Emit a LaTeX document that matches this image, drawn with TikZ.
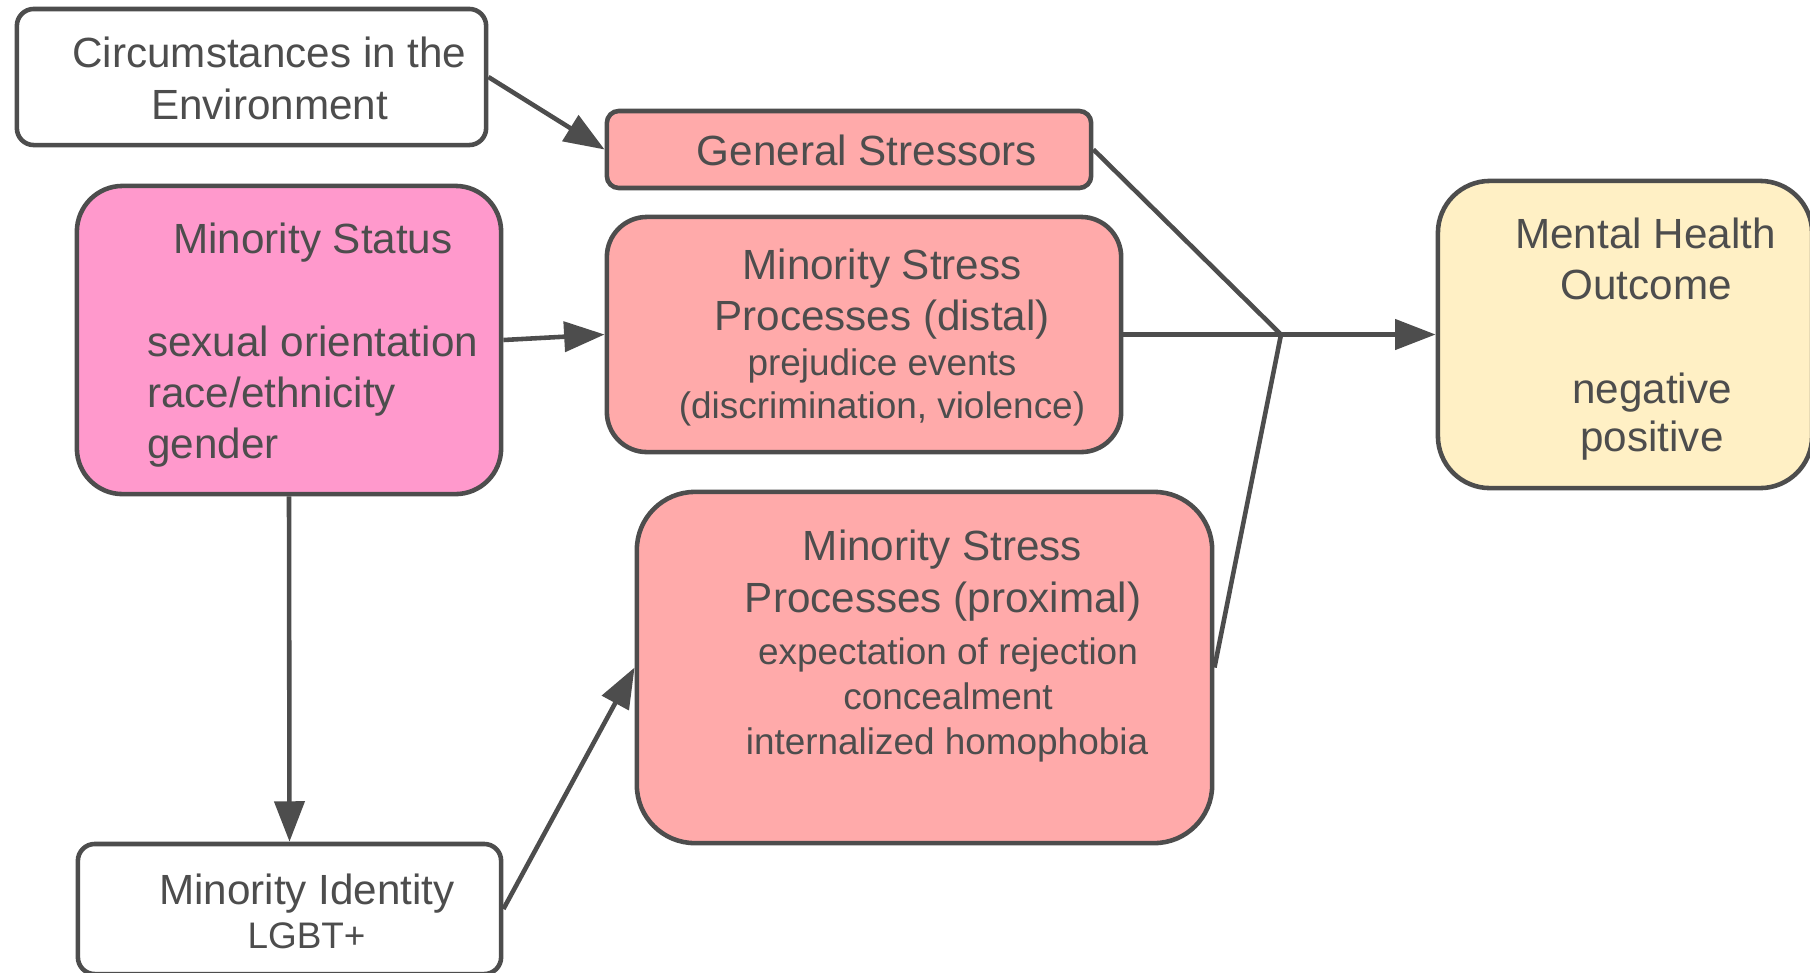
\documentclass[tikz,border=0pt]{standalone}
\usepackage{fontspec}
\setmainfont{Liberation Sans}
\usetikzlibrary{arrows.meta}
\definecolor{ink}{HTML}{4D4D4D}
\definecolor{stressfill}{HTML}{FFAAAA}
\definecolor{statusfill}{HTML}{FF99CC}
\definecolor{outfill}{HTML}{FFF0C5}
\begin{document}
\begin{tikzpicture}[x=0.01cm,y=-0.01cm,
  box/.style={draw=ink, line width=1.3pt, inner sep=0pt},
  big/.style={text=ink, font=\fontsize{12}{14}\selectfont, inner sep=0pt, anchor=base},
  small/.style={text=ink, font=\fontsize{10.5}{12}\selectfont, inner sep=0pt, anchor=base},
  conn/.style={draw=ink, line width=1.3pt, line join=round},
  arr/.style={conn, -{Triangle[length=11.5pt,width=8.5pt]}}]
\useasboundingbox (0,0) rectangle (1810,972);

% boxes
\node[box, fill=white, minimum width=4.69cm, minimum height=1.36cm, rounded corners=4.8pt] (cir) at (251.5,77) {};
\node[box, fill=stressfill, minimum width=4.84cm, minimum height=0.77cm, rounded corners=3.4pt] (gen) at (849,149.5) {};
\node[box, fill=statusfill, minimum width=4.24cm, minimum height=3.08cm, rounded corners=13pt] (ms) at (289,340) {};
\node[box, fill=stressfill, minimum width=5.14cm, minimum height=2.35cm, rounded corners=11.4pt] (dis) at (864,334.5) {};
\node[box, fill=outfill, minimum width=3.74cm, minimum height=3.07cm, rounded corners=14.8pt] (mh) at (1625,334.5) {};
\node[box, fill=stressfill, minimum width=5.75cm, minimum height=3.51cm, rounded corners=16.5pt] (prox) at (924.5,667.5) {};
\node[box, fill=white, minimum width=4.23cm, minimum height=1.30cm, rounded corners=4.8pt] (mi) at (289.5,909) {};

% texts
\node[big] (cir1) at (269.5,67) {Circumstances in the};
\node[big] (cir2) at (269.5,119) {Environment};
\node[big] (gen1) at (867,165) {General Stressors};
\node[big] (ms1) at (313,253) {Minority Status};
\node[big, anchor=base west] (ms2) at (146.6,356) {sexual orientation};
\node[big, anchor=base west] (ms3) at (146.6,407) {race/ethnicity};
\node[big, anchor=base west] (ms4) at (146.6,458) {gender};
\node[big] (dis1) at (882,279) {Minority Stress};
\node[big] (dis2) at (882,330) {Processes (distal)};
\node[small] (dis3) at (882,375) {prejudice events};
\node[small] (dis4) at (882,418) {(discrimination, violence)};
\node[big] (mh1) at (1645.5,248) {Mental Health};
\node[big] (mh2) at (1646,299) {Outcome};
\node[big] (mh3) at (1652,403) {negative};
\node[big] (mh4) at (1652,451) {positive};
\node[big] (px1) at (942.5,560) {Minority Stress};
\node[big] (px2) at (943,612) {Processes (proximal)};
\node[small] (px3) at (948,664) {expectation of rejection};
\node[small] (px4) at (948,709) {concealment};
\node[small] (px5) at (947,754) {internalized homophobia};
\node[big] (mi1) at (307,904) {Minority Identity};
\node[small] (mi2) at (306.5,948) {LGBT+};

% connectors
\coordinate (j) at (1281,334.5);
\draw[arr] (cir.east) -- (gen.west);
\draw[arr] (ms.east) -- (dis.west);
\draw[arr] (ms.south) -- (mi.north);
\draw[arr] (mi.east) -- (prox.west);
\draw[conn] (gen.east) -- (j) -- (prox.east);
\draw[conn] (dis.east) -- (j);
\draw[arr] (j) -- (mh.west);
\end{tikzpicture}
\end{document}
